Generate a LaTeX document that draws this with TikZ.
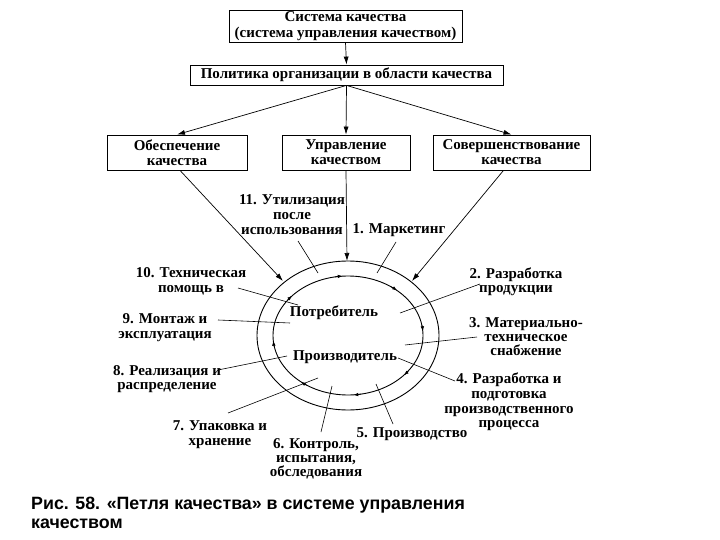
\documentclass[tikz,border=0pt]{standalone}
\usepackage{fontspec}
\setmainfont{Liberation Serif}
\newfontfamily\capfont{Liberation Sans}
\usetikzlibrary{arrows.meta,calc}
\begin{document}
\begin{tikzpicture}[x=1pt,y=-1pt,
  lbl/.style={font=\bfseries\fontsize{15}{15}\selectfont, align=center, inner sep=0pt},
  box/.style={draw, line width=0.8pt, inner sep=0pt, align=center, font=\bfseries\fontsize{15}{15}\selectfont},
  arr/.style={line width=0.7pt, -{Latex[length=8pt,width=5pt]}},
  lead/.style={line width=0.6pt},
  ring/.style={line width=0.9pt},
  small/.style={line width=0.7pt, -{Latex[length=5pt,width=3.5pt]}}]
\useasboundingbox (0,0) rectangle (720,540);
% top boxes
\node[box, minimum width=233pt, minimum height=32pt, font=\bfseries\fontsize{15}{16.5}\selectfont] (sys) at (345.5,26) {Система качества\\(система управления качеством)};
\node[box, minimum width=313pt, minimum height=20pt] (pol) at (346.5,75) {Политика организации в области качества};
\node[box, minimum width=140pt, minimum height=35pt] (obes) at (177,152.5) {Обеспечение\\качества};
\node[box, minimum width=128pt, minimum height=35pt] (upr) at (346,152.5) {Управление\\качеством};
\node[box, minimum width=157pt, minimum height=35pt] (sov) at (511.5,152.5) {Совершенствование\\качества};
\draw[arr] (sys.south) -- (pol.north);
\draw[arr] (pol.south) -- (obes.north);
\draw[arr] (pol.south) -- (upr.north);
\draw[arr] (pol.south) -- (sov.north);
% loop
\coordinate (C) at (348,335.5);
\draw[ring] (C) ellipse [x radius=91, y radius=74.5];
\draw[ring] (C) ellipse [x radius=75, y radius=59.5];
\foreach \a in {266,311,356,42,86,129,175,222}
  \draw[small] ($(C)+(\a-6:75 and 59.5)$) arc[start angle=\a-6, end angle=\a, x radius=75, y radius=59.5];
\coordinate (oA) at (283,281);
\coordinate (oB) at (347,261);
\coordinate (oC) at (412,281);
\draw[arr] (obes.south) ++(3,0) coordinate (obS) -- (oA);
\draw[arr] (upr.south) -- (oB);
\draw[arr] (sov.south) ++(-8,0) coordinate (sovS) -- (oC);
% centre texts
\node[lbl] (potr) at (334,313) {Потребитель};
\node[lbl] (proizv) at (345,357) {Производитель};
% labels
\node[lbl] (l11) at (292,215) {11. Утилизация\\после\\использования};
\node[lbl] (l1) at (399,230) {1. Маркетинг};
\node[lbl, font=\bfseries\fontsize{15}{14}\selectfont] (l2) at (516,282) {2. Разработка\\продукции};
\node[lbl, font=\bfseries\fontsize{15}{14}\selectfont] (l3) at (526,337) {3. Материально-\\техническое\\снабжение};
\node[lbl, font=\bfseries\fontsize{15}{14.6}\selectfont] (l4) at (509,402) {4. Разработка и\\подготовка\\производственного\\процесса};
\node[lbl] (l5) at (412,434) {5. Производство};
\node[lbl, font=\bfseries\fontsize{15}{14}\selectfont] (l6) at (316,459) {6. Контроль,\\испытания,\\обследования};
\node[lbl] (l7) at (220,435) {7. Упаковка и\\хранение};
\node[lbl, font=\bfseries\fontsize{15}{14}\selectfont] (l8) at (167,379) {8. Реализация и\\распределение};
\node[lbl] (l9) at (165,328) {9. Монтаж и\\эксплуатация};
\node[lbl] (l10) at (191,281) {10. Техническая\\помощь в};
% leader lines
\coordinate (a11) at (298,241); \coordinate (b11) at (318,273);
\coordinate (a1) at (396,242);  \coordinate (b1) at (377,273);
\coordinate (a2) at (480,284);  \coordinate (b2) at (400,313);
\coordinate (a3) at (477,337);  \coordinate (b3) at (405,345);
\coordinate (a4) at (455,381);  \coordinate (b4) at (398,358);
\coordinate (a5) at (393,424);  \coordinate (b5) at (376,384);
\coordinate (a6) at (321,432);  \coordinate (b6) at (332,386);
\coordinate (a7) at (228,413);  \coordinate (b7) at (318,378);
\coordinate (a8) at (218,370);  \coordinate (b8) at (287,356);
\coordinate (a9) at (218,320);  \coordinate (b9) at (290,323);
\coordinate (a10) at (238,288); \coordinate (b10) at (298,305);
\foreach \i in {1,...,11} \draw[lead] (a\i) -- (b\i);
% caption
\node[anchor=base west, inner sep=0pt, font=\capfont\bfseries\fontsize{17.8}{21}\selectfont] (cap1) at (31,509) {Рис. 58. «Петля качества» в системе управления};
\node[anchor=base west, inner sep=0pt, font=\capfont\bfseries\fontsize{17.8}{21}\selectfont] (cap2) at (31,528) {качеством};
\end{tikzpicture}
\end{document}
